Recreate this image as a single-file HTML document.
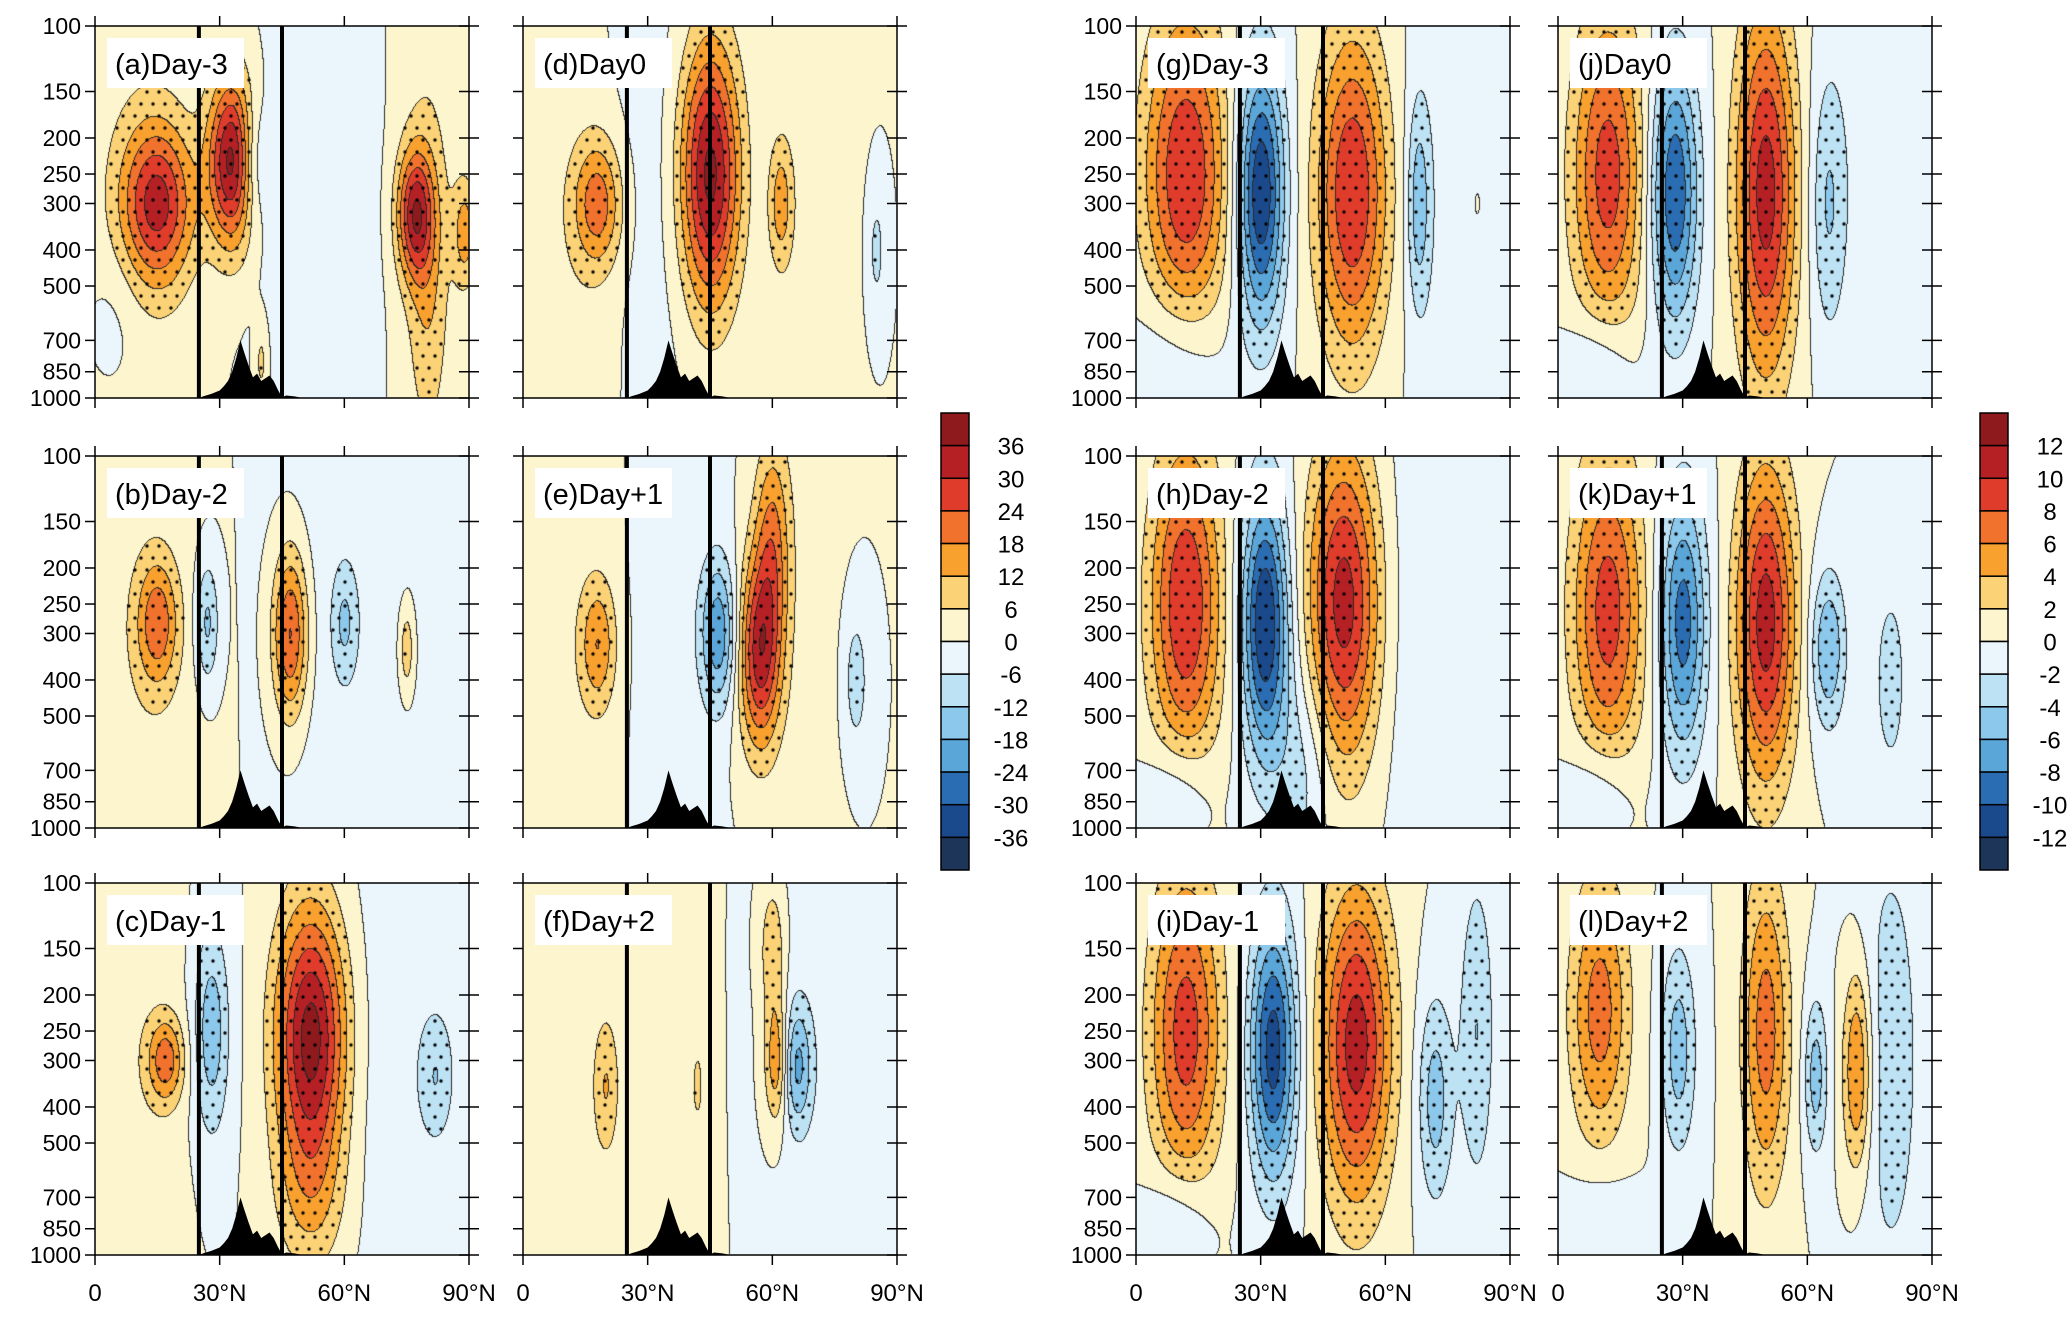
<!DOCTYPE html>
<html><head><meta charset="utf-8">
<style>
body{margin:0;background:#fff;width:2067px;height:1323px;overflow:hidden;position:relative;font-family:"Liberation Sans",sans-serif}
canvas{position:absolute}
svg{position:absolute;left:0;top:0}
</style></head>
<body>
<div id="root"></div>
<svg id="svg" width="2067" height="1323"></svg>
<script>
// ---- data ----
const panelLabels = ["(a)Day-3","(b)Day-2","(c)Day-1","(d)Day0","(e)Day+1","(f)Day+2","(g)Day-3","(h)Day-2","(i)Day-1","(j)Day0","(k)Day+1","(l)Day+2"];
const pressureTicks = [100,150,200,250,300,400,500,700,850,1000];
const latTicks = [0,30,60,90];
const latTickLabels = ["0","30°N","60°N","90°N"];
const leftBarLabels = [36,30,24,18,12,6,0,-6,-12,-18,-24,-30,-36];
const rightBarLabels = [12,10,8,6,4,2,0,-2,-4,-6,-8,-10,-12];
const terrainLat = [25,26,28,30,31,32,33,34,35,36,37,38,39,40,42,43,44,45,46,48,50,55];
const terrainP   = [1000,990,975,955,930,900,850,780,700,760,820,880,860,900,870,900,950,995,985,990,1000,1000];
const boundaryLats = [25,45];
// blobs: [lat, pressure, amplitude, latSigma, logPSigma]
const blobsA=[[15,300,30,6,0.15],[33,230,38,4,0.16],[77,320,30,3,0.12],[89,360,14,2,0.1],[38,230,-12,2.5,0.12],[55,350,-4,10,0.6],[10,300,4,10,0.5],[80,300,5,6,0.6],[80,500,8,3,0.25],[40,800,8,1.2,0.08],[5,600,-4,5,0.15]];
const blobsB=[[15,280,20,3.5,0.12],[27,280,-14,2,0.12],[47,300,26,3,0.16],[60,280,-10,2,0.1],[75,330,12,1.5,0.1],[10,400,4,12,0.5],[65,300,-4,15,0.6]];
const blobsC=[[17,300,20,3,0.08],[10,300,4,8,0.4],[28,250,-16,3,0.2],[52,260,40,6,0.25],[82,330,-10,3,0.12],[70,300,-3,15,0.5],[52,700,10,6,0.16]];
const blobsD=[[18,300,20,4,0.12],[12,400,4,10,0.4],[45,250,38,5,0.25],[62,300,14,2,0.12],[85,400,-8,2,0.16],[30,300,-3,8,0.5],[72,300,4,8,0.5]];
const blobsE=[[18,320,16,3,0.12],[47,300,-22,3,0.14],[57,340,32,3.5,0.18],[60,170,18,3,0.2],[80,400,-9,2.5,0.16],[10,350,3,12,0.5],[35,300,-3,8,0.5],[70,300,3,6,0.6]];
const blobsF=[[20,350,10,2,0.12],[42,350,8,1,0.08],[61,300,18,2,0.12],[66,310,-18,2.5,0.12],[60,150,12,2,0.12],[10,400,3,15,0.6],[75,300,-3,10,0.5]];
const blobsG=[[12,250,10,7,0.3],[30,280,-12,4,0.25],[52,280,10,6,0.3],[68,300,-5,2,0.2],[82,300,2,2,0.1],[10,800,-3,8,0.15],[80,300,-2,8,0.6]];
const blobsH=[[12,250,10,6,0.3],[31,280,-12,4,0.25],[50,250,11,6,0.3],[40,700,-3,5,0.2],[75,300,-2,10,0.6],[10,800,-3,6,0.1]];
const blobsI=[[12,250,9,6,0.3],[33,280,-11,4,0.25],[53,270,11,6,0.3],[72,380,-5,3,0.2],[82,250,-4,3,0.3],[10,800,-3,6,0.1]];
const blobsJ=[[12,250,9,6,0.3],[28,280,-10,4,0.25],[50,280,11,5,0.35],[65,300,-4,3,0.25],[80,200,-2,8,0.5],[10,800,-3,6,0.1]];
const blobsK=[[12,260,9,6,0.3],[30,280,-9,4,0.25],[50,280,11,5,0.3],[65,330,-6,3,0.15],[80,400,-3,3,0.2],[10,800,-3,6,0.1]];
const blobsL=[[10,220,7,5,0.25],[29,280,-5,3,0.2],[50,250,7,4,0.3],[62,330,-5,2,0.15],[72,320,7,2.5,0.2],[80,300,-3,6,0.5],[10,800,-2,6,0.1]];
const panelBlobs=[blobsA,blobsB,blobsC,blobsD,blobsE,blobsF,blobsG,blobsH,blobsI,blobsJ,blobsK,blobsL];

// ---- layout ----
const colors=["#1c3558","#1a4a8c","#2b6db3","#5aa6d9","#8cc8ec","#bde2f4","#eaf5fc","#fcf5cd","#fbd275","#f8a12e","#f0722c","#e03c2b","#b52025","#8e1a1d"];
const colX=[95,523,1136,1558], rowY=[26,456,883], PW=374, PH=372;
const svg=document.getElementById('svg'), root=document.getElementById('root');
const NS="http://www.w3.org/2000/svg";
function mk(tag,attrs,parent){const e=document.createElementNS(NS,tag);for(const k in attrs)e.setAttribute(k,attrs[k]);(parent||svg).appendChild(e);return e;}
function xS(lat,x0){return x0+lat/90*PW;}
function yS(p,y0){return y0+Math.log10(p/100)*PH;}

for(let i=0;i<12;i++){
  const col=Math.floor(i/3), row=i%3, x0=colX[col], y0=rowY[row];
  const step = i<6?6:2, blobs=panelBlobs[i];
  const cv=document.createElement('canvas');cv.width=PW;cv.height=PH;
  cv.style.left=x0+'px';cv.style.top=y0+'px';
  
  
  root.appendChild(cv);
  const ctx=cv.getContext('2d'), img=ctx.createImageData(PW,PH);
  const lev=new Int8Array(PW*PH), val=new Float32Array(PW*PH);
  for(let py=0;py<PH;py++){const lp=2+py/PH;for(let px=0;px<PW;px++){
    const lat=px/PW*90;let v=0;
    for(const b of blobs){const dl=(lat-b[0])/b[3],dp=(lp-Math.log10(b[1]))/b[4];v+=b[2]*Math.exp(-0.5*(dl*dl+dp*dp));}
    let L=Math.floor(v/step)+7;L=Math.max(0,Math.min(13,L));
    lev[py*PW+px]=L;val[py*PW+px]=v;}}
  for(let k=0;k<PW*PH;k++){
    const px=k%PW;let c=colors[lev[k]];
    if(px<PW-1&&k+PW<PW*PH&&(lev[k]!=lev[k+1]||lev[k]!=lev[k+PW]))c="#2a2a2a";
    img.data[4*k]=parseInt(c.substr(1,2),16);img.data[4*k+1]=parseInt(c.substr(3,2),16);img.data[4*k+2]=parseInt(c.substr(5,2),16);img.data[4*k+3]=255;}
  ctx.putImageData(img,0,0);
  // stipple
  ctx.fillStyle="#000";
  for(let sy=6,r=0;sy<PH;sy+=12,r++)for(let sx=(r%2?4:10);sx<PW;sx+=12){
    if(Math.abs(val[sy*PW+sx])>step*1.05){ctx.beginPath();ctx.arc(sx,sy,1.7,0,6.3);ctx.fill();}}
  // terrain
  const pts=terrainLat.map((la,j)=>xS(la,x0)+','+yS(terrainP[j],y0)).join(' ');
  const t=mk('polygon',{points:pts+' '+xS(terrainLat[terrainLat.length-1],x0)+','+(y0+PH)+' '+xS(terrainLat[0],x0)+','+(y0+PH),fill:'#000'});
  
  for(const bl of boundaryLats){const l=mk('line',{x1:xS(bl,x0),x2:xS(bl,x0),y1:y0,y2:y0+PH,stroke:'#000','stroke-width':4});
    }
  const fr=mk('rect',{x:x0,y:y0,width:PW,height:PH,fill:'none',stroke:'#000','stroke-width':1.5});
  
  // y ticks
  for(const p of pressureTicks){const y=yS(p,y0);
    mk('line',{x1:x0-10,x2:x0,y1:y,y2:y,stroke:'#000','stroke-width':1.5});
    mk('line',{x1:x0+PW-10,x2:x0+PW+10,y1:y,y2:y,stroke:'#000','stroke-width':1.5});
    if(col==0||col==2){const tx=mk('text',{x:x0-14,y:y+8,'text-anchor':'end','font-size':23});tx.textContent=p;
      }}
  for(let j=0;j<latTicks.length;j++){const x=xS(latTicks[j],x0);
    mk('line',{x1:x,x2:x,y1:y0-10,y2:y0,stroke:'#000','stroke-width':1.5});
    mk('line',{x1:x,x2:x,y1:y0+PH,y2:y0+PH+10,stroke:'#000','stroke-width':1.5});
    if(row==2){const tx=mk('text',{x:x,y:1301,'text-anchor':'middle','font-size':24});tx.textContent=latTickLabels[j];
      }}
  const lb=mk('rect',{x:x0+12,y:y0+12,width:137,height:50,fill:'#fff'});
  
  const lt=mk('text',{x:x0+20,y:y0+48,'font-size':29});lt.textContent=panelLabels[i];
  
}
// colorbars
function colorbar(x,labels,name){
  const y0=413,h=457,bh=h/14;
  for(let k=0;k<14;k++){const r=mk('rect',{x:x,y:y0+k*bh,width:28,height:bh,fill:colors[13-k],stroke:'#000','stroke-width':1.5});
    }
  labels.forEach((v,k)=>{const t=mk('text',{x:x+70,y:y0+(k+1)*bh+9,'text-anchor':'middle','font-size':24});t.textContent=v;
    });
}
colorbar(941,leftBarLabels,'colorbar-left');
colorbar(1980,rightBarLabels,'colorbar-right');
</script>
</body></html>
